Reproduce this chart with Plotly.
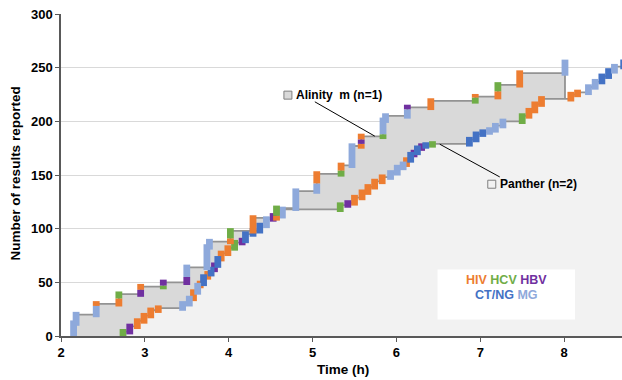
import plotly.graph_objects as go

# ---------------- data ----------------
assay_names = ["HIV", "HCV", "HBV", "CT/NG", "MG"]
assay_colors = ["#ED7D31", "#70AD47", "#7030A0", "#4472C4", "#8EA9DB"]

# Alinity m (n=1): batches of results (same time = stacked in one batch)
alinity_time = [2.15, 2.18, 2.42, 2.42, 2.69, 2.69, 2.95, 2.95, 3.22, 3.22,
                3.50, 3.50, 3.74, 3.77, 4.02, 4.02, 4.29, 4.57, 4.57, 4.80,
                5.05, 5.05, 5.34, 5.34, 5.47, 5.58, 5.58, 5.58, 5.84, 5.84,
                5.87, 6.13, 6.13, 6.41, 6.94, 6.94, 7.21, 7.21, 7.47, 8.01]
alinity_assay = ["MG", "MG", "MG", "HIV", "HIV", "HCV", "HBV", "HIV", "HCV", "HBV",
                 "HBV", "MG", "MG", "MG", "HIV", "HCV", "HIV", "HIV", "HCV", "MG",
                 "MG", "HIV", "HCV", "HIV", "MG", "HIV", "HBV", "HIV", "HCV", "MG",
                 "MG", "MG", "HBV", "HIV", "HCV", "HIV", "HIV", "HCV", "HIV", "MG"]
alinity_count = [12, 8, 8, 2, 5, 4, 4, 3, 1, 3,
                 5, 9, 19, 5, 3, 7, 12, 2, 7, 16,
                 7, 9, 3, 5, 18, 2, 4, 3, 2, 13,
                 4, 6, 2, 6, 3, 1, 5, 6, 11, 10]

# Panther (n=2)
panther_time = [2.74, 2.82, 2.91, 2.99, 3.07, 3.16, 3.45, 3.53, 3.58, 3.63,
                3.66, 3.70, 3.75, 3.79, 3.83, 3.87, 3.91, 3.99, 4.07, 4.16,
                4.20, 4.29, 4.37, 4.45, 4.53, 4.64, 5.33, 5.42, 5.50, 5.59,
                5.66, 5.74, 5.83, 5.93, 6.01, 6.08, 6.12, 6.17, 6.21, 6.25,
                6.30, 6.35, 6.43, 6.87, 6.95, 7.03, 7.11, 7.18, 7.27, 7.50,
                7.58, 7.65, 7.73, 8.08, 8.16, 8.29, 8.37, 8.45, 8.53, 8.60, 8.71]
panther_assay = ["HCV", "HBV", "HIV", "HIV", "HIV", "HIV", "MG", "MG", "HIV", "MG",
                 "HIV", "CT/NG", "HIV", "CT/NG", "HBV", "CT/NG", "HIV", "HIV", "HCV", "HBV",
                 "CT/NG", "CT/NG", "CT/NG", "MG", "HBV", "MG", "HCV", "HBV", "HIV", "HIV",
                 "HIV", "HIV", "HIV", "MG", "MG", "MG", "HIV", "CT/NG", "HBV", "CT/NG",
                 "HBV", "CT/NG", "HCV", "CT/NG", "CT/NG", "CT/NG", "MG", "MG", "MG", "HCV",
                 "HIV", "HIV", "HIV", "HIV", "HIV", "MG", "MG", "CT/NG", "CT/NG", "MG", "CT/NG"]
panther_count = [4, 5, 5, 5, 5, 2, 4, 5, 6, 6,
                 2, 6, 3, 4, 4, 6, 5, 5, 5, 2,
                 6, 3, 5, 6, 3, 6, 4, 2, 5, 5,
                 5, 5, 4, 4, 5, 3, 4, 5, 2, 4,
                 2, 1, 1, 4, 5, 2, 2, 4, 4, 5,
                 5, 6, 5, 4, 2, 5, 5, 5, 5, 4, 4]

x_ticks = [2, 3, 4, 5, 6, 7, 8]
y_ticks = [0, 50, 100, 150, 200, 250, 300]

# ---------------- style ----------------
FONT = "Liberation Sans, Arial, sans-serif"
CURVE_COLOR = "#939393"
ALINITY_FILL = "#D9D9D9"
PANTHER_FILL = "#F2F2F2"
BAR_W = 6.8      # px width of each result block
PAD = 2.5        # visual overhang of a block beyond its step (y units)
color_of = dict(zip(assay_names, assay_colors))


def batches(times, assays, counts):
    out, cum = [], 0
    for t, a, c in zip(times, assays, counts):
        if out and out[-1]["t"] == t:
            g = out[-1]
        else:
            g = {"t": t, "segs": []}
            out.append(g)
        g["segs"].append((a, cum, cum + c))
        cum += c
        g["end"] = cum
    return out


def step_xy(groups, drop=False):
    xs = [groups[0]["t"]] + [g["t"] for g in groups]
    ys = [0] + [g["end"] for g in groups]
    if drop:
        xs.append(groups[-1]["t"])
        ys.append(0)
    return xs, ys


def block_traces(groups):
    traces = []
    for name in assay_names:
        xs, ys = [], []
        for g in groups:
            n = len(g["segs"])
            for i, (a, y0, y1) in enumerate(g["segs"]):
                if a != name:
                    continue
                lo = y0 - PAD if i == 0 else y0
                hi = y1 + PAD if i == n - 1 else y1
                xs += [g["t"], g["t"], None]
                ys += [lo, hi, None]
        if xs:
            traces.append(go.Scatter(x=xs, y=ys, mode="lines",
                                     line=dict(color=color_of[name], width=BAR_W),
                                     hoverinfo="skip", showlegend=False))
    return traces


ali = batches(alinity_time, alinity_assay, alinity_count)
pan = batches(panther_time, panther_assay, panther_count)

fig = go.Figure()
ax, ay = step_xy(ali, drop=True)
fig.add_trace(go.Scatter(x=ax, y=ay, mode="lines", line_shape="hv",
                         line=dict(color=CURVE_COLOR, width=1.8),
                         fill="tozeroy", fillcolor=ALINITY_FILL,
                         showlegend=False, hoverinfo="skip"))
px_, py_ = step_xy(pan)
fig.add_trace(go.Scatter(x=px_, y=py_, mode="lines", line_shape="hv",
                         line=dict(color=CURVE_COLOR, width=1.8),
                         fill="tozeroy", fillcolor=PANTHER_FILL,
                         showlegend=False, hoverinfo="skip"))
for tr in block_traces(pan):
    fig.add_trace(tr)
for tr in block_traces(ali):
    fig.add_trace(tr)

# label key squares
fig.add_trace(go.Scatter(x=[4.706, 7.137], y=[224.4, 141.4], mode="markers",
                         marker=dict(symbol="square", size=8,
                                     color=[ALINITY_FILL, PANTHER_FILL],
                                     line=dict(color="#7F7F7F", width=1)),
                         showlegend=False, hoverinfo="skip"))

# leader lines
fig.add_shape(type="line", x0=5.027, y0=218.2, x1=5.742, y1=186.2,
              line=dict(color="black", width=1))
fig.add_shape(type="line", x0=6.517, y0=178.7, x1=7.232, y1=148.2,
              line=dict(color="black", width=1))

fig.add_annotation(x=4.777, y=224.4, xanchor="left", yanchor="middle", showarrow=False,
                   text="<b>Alinity\u00a0 m (n=1)</b>",
                   font=dict(family=FONT, size=12, color="black"))
fig.add_annotation(x=7.208, y=141.4, xanchor="left", yanchor="middle", showarrow=False,
                   text="<b>Panther (n=2)</b>",
                   font=dict(family=FONT, size=12, color="black"))

# assay colour key box
fig.add_shape(type="rect", x0=6.49, x1=8.13, y0=15.4, y1=62,
              fillcolor="white", line=dict(width=0))
row1 = " ".join(f"<span style='color:{color_of[n]}'>{n}</span>" for n in ["HIV", "HCV", "HBV"])
row2 = " ".join(f"<span style='color:{color_of[n]}'>{n}</span>" for n in ["CT/NG", "MG"])
fig.add_annotation(x=7.31, y=51.8, showarrow=False, text=f"<b>{row1}</b>",
                   font=dict(family=FONT, size=12.5))
fig.add_annotation(x=7.31, y=37.8, showarrow=False, text=f"<b>{row2}</b>",
                   font=dict(family=FONT, size=12.5))

# axis titles
fig.add_annotation(xref="paper", yref="paper", x=0, y=0.505, xshift=-46,
                   xanchor="center", yanchor="middle",
                   textangle=-90, showarrow=False,
                   text="<b>Number of results reported</b>",
                   font=dict(family=FONT, size=13.5, color="black"))
fig.add_annotation(xref="paper", yref="paper", x=0.502, y=0, yshift=-33,
                   xanchor="center", yanchor="middle",
                   showarrow=False, text="<b>Time (h)</b>",
                   font=dict(family=FONT, size=13.5, color="black"))

axis_font = dict(family=FONT, size=13, color="black", weight="bold")
fig.update_xaxes(range=[2, 8.69], tickvals=x_ticks, ticktext=[str(v) for v in x_ticks],
                 showgrid=False, zeroline=False, showline=True, linecolor="#595959",
                 linewidth=1.5, ticks="outside", ticklen=4, tickcolor="#595959",
                 tickfont=axis_font, automargin=False)
fig.update_yaxes(range=[0, 300], tickvals=y_ticks, ticktext=[str(v) for v in y_ticks],
                 showgrid=True, gridcolor="#D9D9D9", gridwidth=1, zeroline=False,
                 showline=True, linecolor="#595959", linewidth=1.5, ticks="outside",
                 ticklen=4, tickcolor="#595959", tickfont=axis_font, automargin=False)
fig.update_layout(width=622, height=380, margin=dict(l=61, r=0, t=14, b=44),
                  plot_bgcolor="white", paper_bgcolor="white", showlegend=False)

fig.write_html("out.html", config={"displayModeBar": False},
               post_script="document.body.style.margin='0';document.body.style.overflow='hidden';")
